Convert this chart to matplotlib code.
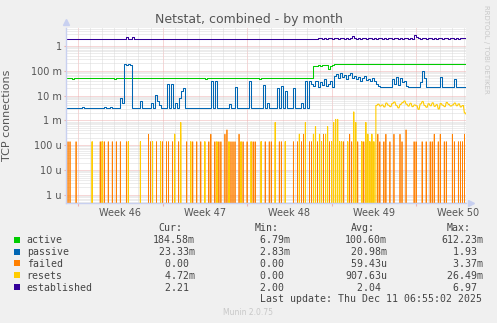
import numpy as np
import matplotlib
matplotlib.use('Agg')
import matplotlib.pyplot as plt
from matplotlib.patches import Rectangle

# ---------------------------------
# Data (4 h bins, 200 bins)
# ---------------------------------
nbins = 200

active_m = ([50.0]*3 + [46.0] + [50.0]*20 + [46.0] + [50.0]*44 + [46.0]
            + [50.0]*26 + [46.0] + [50.0]*26
            + [150, 160, 165, 160, 165, 170, 165, 120, 150, 175]
            + [188.0]*67)

passive_m = [
    3.3, 3.3, 3.3, 3.3, 3.3, 3.3, 3.3, 3.3, 3.6, 3.3,
    3.3, 3.3, 3.3, 3.3, 3.3, 3.3, 3.3, 3.3, 3.3, 3.6,
    3.3, 3.3, 3.6, 3.3, 3.3, 3.3, 3.3, 8.0, 5.0, 180,
    178, 182, 175, 3.3, 3.3, 3.3, 3.3, 6.0, 3.3, 3.3,
    3.3, 3.3, 5.0, 3.3, 10.5, 6.0, 4.0, 3.3, 3.3, 3.3,
    29, 3.3, 29, 3.3, 5.0, 3.3, 8.0, 15, 20, 3.3,
    3.3, 3.3, 3.3, 3.3, 3.3, 3.3, 3.3, 3.3, 3.3, 3.3,
    3.3, 3.3, 40, 3.3, 40, 3.3, 3.3, 3.3, 3.3, 3.3,
    3.3, 4.5, 3.3, 3.3, 22, 3.3, 3.3, 3.3, 3.3, 3.3,
    3.3, 40, 3.3, 3.3, 3.3, 3.3, 3.3, 3.3, 27, 3.3,
    5.0, 3.3, 3.3, 3.3, 3.3, 20, 3.3, 25, 3.3, 15,
    3.3, 3.3, 3.3, 20, 3.3, 3.3, 3.3, 5.0, 3.3, 40,
    3.3, 40, 30, 25, 40, 22, 35, 28, 45, 25,
    30, 38, 22, 60, 75, 50, 80, 55, 70, 45,
    65, 80, 50, 60, 45, 55, 40, 50, 60, 42,
    48, 38, 52, 40, 30, 25, 23, 22, 23, 22,
    23, 22, 45, 30, 55, 28, 50, 35, 40, 25,
    22, 23, 22, 23, 22, 22, 35, 100, 50, 23,
    22, 23, 22, 23, 22, 23, 55, 23, 22, 23,
    22, 23, 22, 45, 23, 22, 23, 22, 23, 23,
]

# failed: bins with failures, and rate in u (1 failure / 2h = 139u)
failed_bins = [1, 2, 5, 17, 18, 19, 21, 23, 25, 27, 30, 41, 42, 45, 48, 50, 51,
               53, 54, 56, 57, 60, 63, 65, 67, 71, 72, 74, 76, 77, 79, 80, 82,
               83, 84, 86, 88, 90, 93, 94, 97, 99, 101, 102, 104, 106, 107, 109,
               113, 115, 117, 118, 119, 121, 122, 125, 127, 128, 131, 132, 134,
               136, 138, 141, 142, 145, 147, 148, 149, 151, 152, 155, 156, 158,
               159, 161, 163, 166, 167, 169, 173, 174, 177, 179, 181, 182, 183,
               185, 186, 188, 189, 192, 193, 195, 196, 197, 198, 199]
failed_high = {41: 278, 54: 278, 57: 278, 72: 278, 79: 278, 80: 417, 86: 278,
               118: 278, 119: 278, 128: 278, 134: 278, 141: 278, 155: 278,
               159: 278, 163: 278, 166: 278, 169: 417, 183: 278, 186: 278,
               192: 278, 198: 278}

resets_bins = [0, 13, 18, 31, 37, 43, 47, 54, 57, 62, 69, 75, 81, 87, 92, 97,
               104, 109, 116, 119, 123, 124, 126, 127, 129, 130, 132, 133, 134,
               135, 136, 137, 140, 143, 144, 147, 149, 150, 151, 152, 153]
resets_u = [139, 139, 139, 139, 139, 139, 139, 278, 830, 139, 139, 139, 139,
            139, 139, 139, 830, 139, 278, 830, 278, 560, 278, 139, 278, 560,
            139, 830, 1100, 1100, 139, 139, 139, 2200, 830, 139, 830, 278,
            139, 278, 139]
# from bin 154 on resets stay in the milli range
resets_late_m = [4.0, 4.5, 3.8, 4.2, 3.5, 5.0, 4.1, 3.6, 4.8, 5.5, 4.0, 3.2,
                 4.4, 5.2, 6.0, 4.5, 3.8, 4.9, 3.6, 4.2, 3.9, 2.8, 4.6, 5.8,
                 4.0, 3.4, 4.7, 3.9, 5.1, 3.7, 4.3, 2.9, 4.8, 4.1, 3.6, 5.3,
                 4.4, 3.8, 4.2, 5.0, 3.9, 4.6, 3.5, 4.0, 2.0, 1.7]

established = ([2.0]*30 + [2.2, 2.0, 2.0, 2.25] + [2.0]*91
               + [2.05, 2.1, 2.0, 2.05, 2.0, 2.1, 2.05, 2.0, 2.1, 2.05]
               + [2.0, 2.05, 2.1, 2.0, 2.05, 2.0, 2.05, 2.5, 2.1, 2.0]
               + [2.05, 2.0, 2.1, 2.05, 2.0, 2.05, 2.1, 2.0, 2.05, 2.0]
               + [2.05, 2.1, 2.0, 2.05, 2.0, 2.1, 2.05, 2.0, 2.05, 2.1]
               + [2.0, 2.05, 2.0, 2.1, 2.05, 2.0, 2.05, 2.0, 2.8, 2.3]
               + [2.05, 2.0, 2.1, 2.05, 2.0, 2.05, 2.1, 2.0, 2.05, 2.0]
               + [2.1, 2.05, 2.0, 2.05, 2.1, 2.0, 2.05, 2.1, 2.0, 2.05]
               + [2.0, 2.05, 2.1, 2.05, 2.0])

week_start_bins = [6, 48, 90, 132, 174]
week_labels = ['Week 46', 'Week 47', 'Week 48', 'Week 49', 'Week 50']
ytick_vals = [1e-6, 1e-5, 1e-4, 1e-3, 1e-2, 1e-1, 1]
ytick_labels = ['1 u', '10 u', '100 u', '1 m', '10 m', '100 m', '1']

names = ['active', 'passive', 'failed', 'resets', 'established']
colors = ['#00cc00', '#0066b3', '#ff8000', '#ffcc00', '#330099']
cur = ['184.58m', '23.33m', '0.00', '4.72m', '2.21']
vmin = ['6.79m', '2.83m', '0.00', '0.00', '2.00']
vavg = ['100.60m', '20.98m', '59.43u', '907.63u', '2.04']
vmax = ['612.23m', '1.93', '3.37m', '26.49m', '6.97']

# ---------------------------------
# Build series (spiky ones on a half-bin grid, drawn as thin spikes)
# ---------------------------------
t = np.arange(nbins)
th = np.arange(2*nbins)/2
active = np.array(active_m)*1e-3
passive = np.array(passive_m)*1e-3
failed = np.zeros(2*nbins)
for b in failed_bins:
    failed[2*b] = failed_high.get(b, 139)*1e-6
resets = np.zeros(2*nbins)
resets[2*np.array(resets_bins)] = np.array(resets_u)*1e-6
resets[2*154:] = np.repeat(np.array(resets_late_m)*1e-3, 2)
established = np.array(established)
series = [(t, active), (t, passive), (th, failed), (th, resets), (t, established)]
widths = [0.75, 0.75, 0.55, 0.8, 0.75]
steps = ['steps-post', 'steps-post', 'default', 'default', 'steps-post']

# ---------------------------------
# Figure
# ---------------------------------
W, H = 497, 323
fig = plt.figure(figsize=(W/100, H/100), dpi=100, facecolor='#f0f0f0')
ax = fig.add_axes([66/W, 1-203/H, 400/W, 175/H])
ax.set_facecolor('white')
ax.set_yscale('log')
ax.set_xlim(0, 198.8)
ax.set_ylim(4.7e-7, 5.3)

# grid
minor_c = '#dadada'
major_c = '#eeb0b0'
for d in range(0, 200, 6):
    if d in week_start_bins:
        continue
    ax.axvline(d, color=minor_c, lw=0.72, ls=(0, (1, 1)), zorder=0)
for d in week_start_bins:
    ax.axvline(d, color=major_c, lw=0.72, ls=(0, (1, 1)), zorder=0)
for e in range(-7, 1):
    for k in range(2, 10):
        ax.axhline(k*10.0**e, color=minor_c, lw=0.72, ls=(0, (1, 1)), zorder=0)
for v in ytick_vals:
    ax.axhline(v, color=major_c, lw=0.72, ls=(0, (1, 1)), zorder=0)

for (x, s), c, w, ds in zip(series, colors, widths, steps):
    ax.plot(x, s, color=c, lw=w, drawstyle=ds, zorder=2)

# axes decoration
for sp in ['top', 'right']:
    ax.spines[sp].set_visible(False)
for sp in ['left', 'bottom']:
    ax.spines[sp].set_color('#c8d0f0')
    ax.spines[sp].set_linewidth(1)
ax.plot([0], [1.035], transform=ax.transAxes, marker='^', ms=5,
        color='#c8d0f0', clip_on=False)
ax.plot([1.012], [0], transform=ax.transAxes, marker='>', ms=5,
        color='#c8d0f0', clip_on=False)

ax.set_xticks(week_start_bins)
ax.set_xticklabels([])
ax.set_xticks([b+21 for b in week_start_bins], minor=True)
ax.set_xticklabels(week_labels, minor=True)
ax.tick_params(axis='x', which='major', length=2.5, color=major_c)
ax.tick_params(axis='x', which='minor', length=0, pad=3.6, labelsize=7,
               labelcolor='#555555')
ax.set_yticks(ytick_vals)
ax.set_yticklabels(ytick_labels)
ax.yaxis.set_minor_locator(matplotlib.ticker.NullLocator())
ax.tick_params(axis='y', length=1.5, pad=1.4, color=major_c, labelsize=7,
               labelcolor='#555555')

ax.set_ylabel('TCP connections', fontsize=8, color='#555555', labelpad=4)
ax.yaxis.set_label_coords(-54/400, 0.5)

def px(x, y):
    return x/W, 1-y/H

fig.text(*px(248.5, 23.5), 'Netstat, combined - by month', ha='center',
         va='baseline', fontsize=9, color='#555555')
fig.text(*px(486, 5), 'RRDTOOL / TOBI OETIKER', rotation=270, ha='center',
         va='top', fontsize=5, color='#c8c8c8')

# legend
mono = dict(family='DejaVu Sans Mono', fontsize=7.1, color='#444444',
            va='baseline')
cols = [152.7, 248.4, 345.0, 441.0]
for x0, h in zip(cols, ['Cur:', 'Min:', 'Avg:', 'Max:']):
    fig.text(*px(x0+5.95, 231), h, **mono)

def field(s):
    if not s[-1].isalpha():
        s = s + ' '
    return s.rjust(7)

rows = [243, 255, 266.8, 278.7, 290.6]
for i, y in enumerate(rows):
    fig.add_artist(Rectangle(px(14, y-0.5), 6/W, 6/H, transform=fig.transFigure,
                             facecolor=colors[i], edgecolor='none'))
    fig.text(*px(26.7, y), names[i], **mono)
    for x0, vals in zip(cols, [cur, vmin, vavg, vmax]):
        fig.text(*px(x0, y), field(vals[i]), **mono)

fig.text(*px(482, 302.5), 'Last update: Thu Dec 11 06:55:02 2025',
         ha='right', **mono)
fig.text(*px(248, 315), 'Munin 2.0.75', ha='center', va='baseline',
         fontsize=5.5, color='#c8c8c8')

fig.savefig('out.png', dpi=100, facecolor=fig.get_facecolor())
